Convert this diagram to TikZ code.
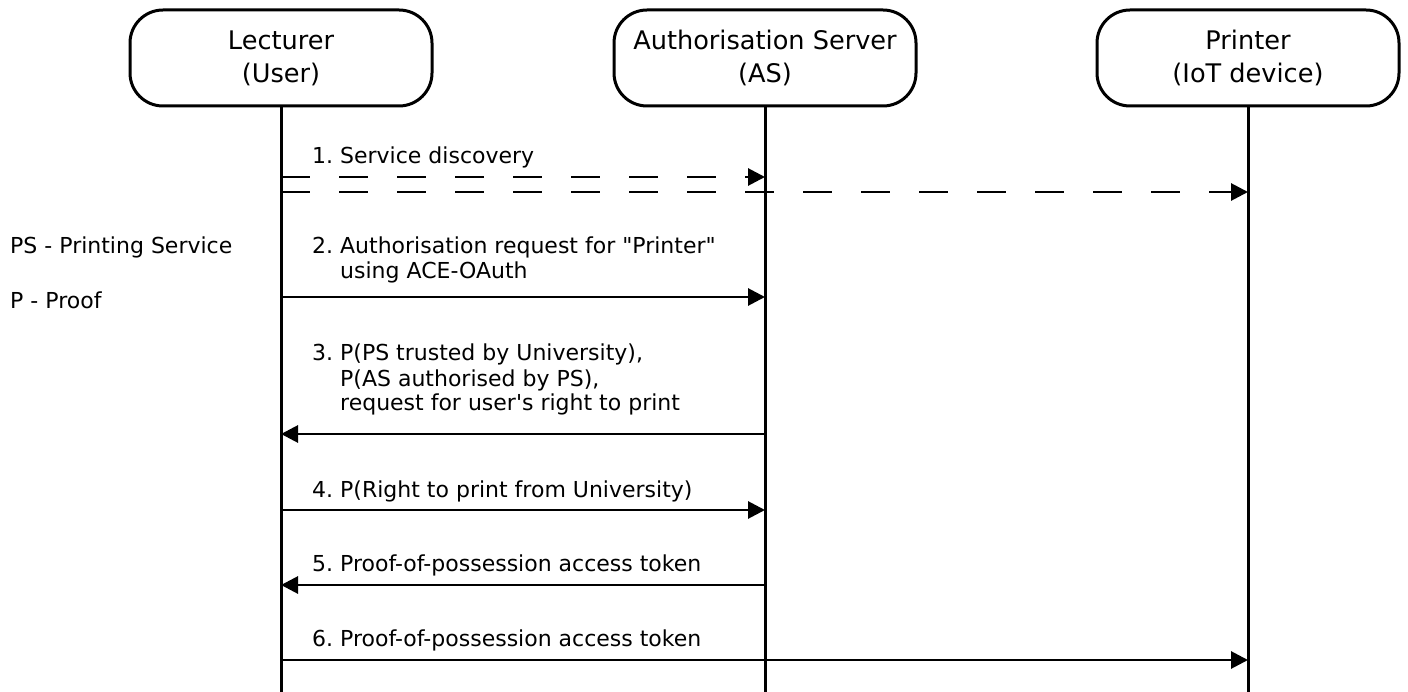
\documentclass[tikz,border=0pt]{standalone}
\usepackage{fontspec}
\setmainfont{DejaVu Sans}
\usetikzlibrary{arrows.meta}
\frenchspacing
\begin{document}
\begin{tikzpicture}[x=1pt,y=-1pt,
  actor/.style={draw,line width=3pt,rounded corners=33pt,minimum width=302pt,minimum height=96pt,
    align=center,inner sep=0pt,font=\fontsize{25.6}{33}\selectfont},
  life/.style={line width=3pt},
  msg/.style={line width=2.9pt,-{Triangle[length=17pt,width=17pt]}},
  dmsg/.style={msg,dash pattern=on 29pt off 29pt},
  lbl/.style={anchor=base west,inner sep=0pt,font=\fontsize{22}{25}\selectfont}]
\useasboundingbox (0,0) rectangle (1408,692);
\node[actor] (lec) at (281,58) {Lecturer\\(User)};
\node[actor] (as) at (765,58) {Authorisation Server\\(AS)};
\node[actor] (pr) at (1248,58) {Printer\\(IoT device)};
\coordinate (bot) at (0,692);
\draw[life] (lec.south) -- (lec |- bot);
\draw[life] (as.south) -- (as |- bot);
\draw[life] (pr.south) -- (pr |- bot);
% y levels
\coordinate (y1a) at (0,177);
\coordinate (y1b) at (0,192);
\coordinate (y2) at (0,297);
\coordinate (y3) at (0,434);
\coordinate (y4) at (0,510);
\coordinate (y5) at (0,585);
\coordinate (y6) at (0,660);
\draw[dmsg] (lec |- y1a) -- (as |- y1a);
\draw[dmsg] (lec |- y1b) -- (pr |- y1b);
\draw[msg] (lec |- y2) -- (as |- y2);
\draw[msg] (as |- y3) -- (lec |- y3);
\draw[msg] (lec |- y4) -- (as |- y4);
\draw[msg] (as |- y5) -- (lec |- y5);
\draw[msg] (lec |- y6) -- (pr |- y6);
% labels
\node[lbl] (t1) at (312,164) {1. Service discovery};
\node[lbl] (t2) at (312,254) {\begin{tabular}[t]{@{}l@{}}2. Authorisation request for \textquotedbl Printer\textquotedbl\\\hphantom{2. }using ACE-OAuth\end{tabular}};
\node[lbl] (t3) at (312,361) {\begin{tabular}[t]{@{}l@{}}3. P(PS trusted by University),\\\hphantom{3. }P(AS authorised by PS),\\\hphantom{3. }request for user\textquotesingle s right to print\end{tabular}};
\node[lbl] (t4) at (312,497) {4. P(Right to print from University)};
\node[lbl] (t5) at (312,571) {5. Proof-of-possession access token};
\node[lbl] (t6) at (312,646) {6. Proof-of-possession access token};
\node[lbl] (leg1) at (10,254) {PS - Printing Service};
\node[lbl] (leg2) at (10,309) {P - Proof};
\end{tikzpicture}
\end{document}
